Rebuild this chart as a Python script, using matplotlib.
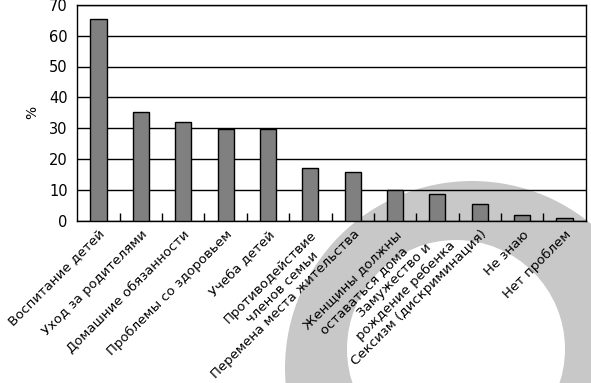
import numpy as np
import matplotlib
matplotlib.use("Agg")
import matplotlib.pyplot as plt
from matplotlib.patches import Circle

# survey answers (percent)
categories = ["Воспитание детей",
              "Уход за родителями",
              "Домашние обязанности",
              "Проблемы со здоровьем",
              "Учеба детей",
              "Противодействие\nчленов семьи",
              "Перемена места жительства",
              "Женщины должны\nоставаться дома",
              "Замужество и\nрождение ребенка",
              "Сексизм (дискриминация)",
              "Не знаю",
              "Нет проблем"]
values = [65.3, 35.3, 32, 29.8, 29.8, 17.2, 16, 10, 8.7, 5.4, 1.8, 1.1]
yticks = [0, 10, 20, 30, 40, 50, 60, 70]

W, H = 591, 383
fig = plt.figure(figsize=(W / 100, H / 100), dpi=100)

# decorative grey ring in the background (pixel coords)
bg = fig.add_axes([0, 0, 1, 1], zorder=0)
bg.set_xlim(0, W)
bg.set_ylim(H, 0)
bg.axis("off")
bg.add_patch(Circle((472, 368), 187, color="#c8c8c8", lw=0))
bg.add_patch(Circle((456, 349), 109, color="white", lw=0))

ax = fig.add_axes([77.3 / W, (H - 221) / H, (585.7 - 77.3) / W, (221 - 4.7) / H], zorder=1)
ax.set_facecolor("none")

x = np.arange(len(values))
ax.bar(x, values, width=0.38, color="#808080", edgecolor="black", linewidth=1, zorder=3)

ax.set_xlim(-0.5, len(values) - 0.5)
ax.set_ylim(0, 70)
ax.set_yticks(yticks)
ax.yaxis.grid(True, color="black", linewidth=1)
ax.set_axisbelow(True)
ax.tick_params(axis="y", length=0, pad=7, labelsize=10.5)

ax.set_xticks(x)
ax.set_xticklabels(categories, rotation=45, ha="right", va="top",
                   rotation_mode="anchor", multialignment="center",
                   fontsize=9.5, linespacing=1.3)
ax.tick_params(axis="x", which="major", length=0, pad=5)
ax.set_xticks(np.arange(0.5, len(values) - 1), minor=True)
ax.tick_params(axis="x", which="minor", direction="in", length=6, width=1, color="black")

for s in ax.spines.values():
    s.set_linewidth(1)
    s.set_color("black")

ax.set_ylabel("%", fontsize=10, labelpad=7)

fig.savefig("out.png", dpi=100)
